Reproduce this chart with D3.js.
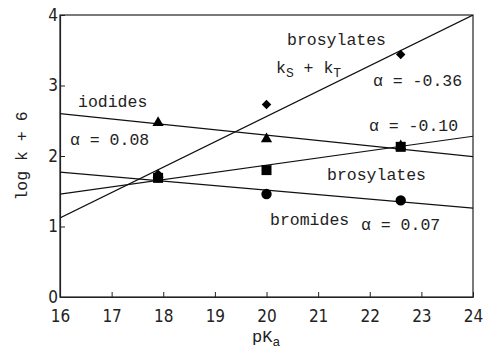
<!DOCTYPE html>
<html>
<head>
<meta charset="utf-8">
<script src="https://cdn.jsdelivr.net/npm/d3@7"></script>
<style>
body { margin: 0; background: #fff; }
text { font-family: "Liberation Mono", "DejaVu Sans Mono", monospace; fill: #222; }
</style>
</head>
<body>
<script>
// data
var pKa = [17.9, 20.0, 22.6];
var iodides = [2.47, 2.24, 2.14];       // triangles
var brosylates = [1.69, 1.80, 2.13];    // squares
var bromides = [1.70, 1.46, 1.37];      // circles
var brosylatesST = [1.74, 2.73, 3.44];  // diamonds
// fitted lines, [y at 16, y at 24]
var fitIodides = [2.60, 1.99];
var fitBrosylates = [1.46, 2.28];
var fitBromides = [1.77, 1.26];
var fitST = [1.12, 4.0];
var xTicks = [16, 17, 18, 19, 20, 21, 22, 23, 24];
var yTicks = [0, 1, 2, 3, 4];

var width = 484, height = 354;
var margin = {left: 60, right: 11, top: 15, bottom: 57};

var svg = d3.select("body").append("svg")
    .attr("width", width)
    .attr("height", height);

var x = d3.scaleLinear().domain([16, 24]).range([margin.left, width - margin.right]);
var y = d3.scaleLinear().domain([0, 4]).range([height - margin.bottom, margin.top]);

//frame
svg.append("rect")
    .attr("x", x(16)).attr("y", y(4))
    .attr("width", x(24) - x(16)).attr("height", y(0) - y(4))
    .attr("fill", "none").attr("stroke", "#222").attr("stroke-width", 1.2);

//axes with inward ticks
var xAxis = svg.append("g")
    .attr("transform", "translate(0," + y(0) + ")")
    .call(d3.axisBottom(x).tickValues(xTicks).tickFormat(d3.format("d"))
        .tickSizeInner(-5).tickSizeOuter(0).tickPadding(10));
var yAxis = svg.append("g")
    .attr("transform", "translate(" + x(16) + ",0)")
    .call(d3.axisLeft(y).tickValues(yTicks).tickFormat(d3.format("d"))
        .tickSizeInner(-5).tickSizeOuter(0).tickPadding(4));
[xAxis, yAxis].forEach(function (g) {
    g.select(".domain").attr("stroke", "#222").attr("stroke-width", 1.2);
    g.selectAll(".tick line").attr("stroke", "#222");
    g.selectAll(".tick text")
        .style("font-family", "'DejaVu Sans Condensed', 'Liberation Sans Narrow', sans-serif")
        .style("font-size", "17px").attr("fill", "#333");
});
xAxis.selectAll(".tick text").attr("dy", "0.9em");
yAxis.selectAll(".tick text").attr("dx", "2px");

//clip lines to plot area
svg.append("clipPath").attr("id", "plot")
    .append("rect")
    .attr("x", x(16)).attr("y", y(4))
    .attr("width", x(24) - x(16)).attr("height", y(0) - y(4));

var fits = [fitIodides, fitBrosylates, fitBromides, fitST];
svg.append("g").attr("clip-path", "url(#plot)")
    .selectAll("line")
    .data(fits)
    .enter()
    .append("line")
    .attr("x1", x(16)).attr("x2", x(24))
    .attr("y1", function (d) { return y(d[0]); })
    .attr("y2", function (d) { return y(d[1]); })
    .attr("stroke", "#111").attr("stroke-width", 1.2);

//markers
var series = [
    {vals: brosylatesST, sym: d3.symbolSquare, size: 45, rot: 45},
    {vals: iodides, sym: d3.symbolTriangle, size: 55, rot: 0},
    {vals: bromides, sym: d3.symbolCircle, size: 85, rot: 0},
    {vals: brosylates, sym: d3.symbolSquare, size: 100, rot: 0}
];
series.forEach(function (s) {
    svg.append("g").selectAll("path")
        .data(s.vals)
        .enter()
        .append("path")
        .attr("transform", function (d, i) {
            return "translate(" + x(pKa[i]) + "," + y(d) + ") rotate(" + s.rot + ")";
        })
        .attr("d", d3.symbol().type(s.sym).size(s.size))
        .attr("fill", "#000");
});

//annotations
function label(txt, px, py, size) {
    return svg.append("text")
        .attr("x", px).attr("y", py)
        .style("font-size", (size || 16.5) + "px")
        .text(txt);
}
label("iodides", 78, 107);
label("\u03b1 = 0.08", 70, 145);
label("brosylates", 287, 45);
var ks = label("k", 276, 73);
ks.append("tspan").attr("baseline-shift", "-30%").style("font-size", "13px").text("S");
ks.append("tspan").text(" + k");
ks.append("tspan").attr("baseline-shift", "-30%").style("font-size", "13px").text("T");
label("\u03b1 = -0.36", 373, 86);
label("\u03b1 = -0.10", 369, 131);
label("brosylates", 327, 180);
label("bromides", 270, 225);
label("\u03b1 = 0.07", 361, 230);

//axis titles
var xt = svg.append("text")
    .attr("x", 252).attr("y", 342)
    .style("font-size", "17px")
    .text("pK");
xt.append("tspan").attr("baseline-shift", "-30%").style("font-size", "13px").text("a");

svg.append("text")
    .attr("transform", "translate(27,156) rotate(-90)")
    .attr("text-anchor", "middle")
    .style("font-size", "16.5px")
    .text("log k + 6");
</script>
</body>
</html>
